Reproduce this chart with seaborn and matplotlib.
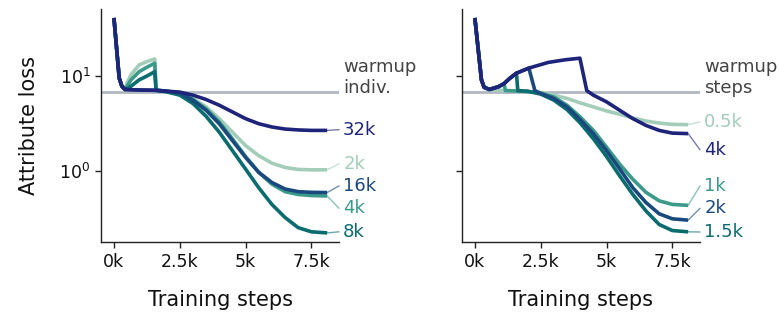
import matplotlib
matplotlib.use("Agg")
import matplotlib.pyplot as plt
import matplotlib.ticker as mticker
import pandas as pd
import seaborn as sns

sns.set_theme(style="ticks")
plt.rcParams["font.family"] = ["DejaVu Sans"]

# ---------------- data ----------------
# Left panel: warmup individuals
left_labels = ["2k", "4k", "8k", "16k", "32k"]
left_x = {
    "2k":  [0, 0.2, 0.3, 0.42, 0.5, 0.65, 0.96, 1.26, 1.55, 1.6, 2.0,
            2.5, 3.0, 3.5, 4.0, 4.5, 5.0, 5.5, 6.0, 6.5, 7.0, 7.5, 8.1],
    "4k":  [0, 0.2, 0.3, 0.42, 0.5, 0.65, 0.96, 1.26, 1.55, 1.6, 2.0,
            2.5, 3.0, 3.5, 4.0, 4.5, 5.0, 5.5, 6.0, 6.5, 7.0, 7.5, 8.1],
    "8k":  [0, 0.2, 0.3, 0.42, 0.5, 0.65, 0.96, 1.26, 1.55, 1.6, 2.0,
            2.5, 3.0, 3.5, 4.0, 4.5, 5.0, 5.5, 6.0, 6.5, 7.0, 7.5, 8.1],
    "16k": [0, 0.2, 0.3, 0.42, 1.0, 1.6, 2.0,
            2.5, 3.0, 3.5, 4.0, 4.5, 5.0, 5.5, 6.0, 6.5, 7.0, 7.5, 8.1],
    "32k": [0, 0.2, 0.3, 0.42, 1.0, 1.6, 2.0,
            2.5, 3.0, 3.5, 4.0, 4.5, 5.0, 5.5, 6.0, 6.5, 7.0, 7.5, 8.1],
}
left_y = {
    "2k":  [41, 9.5, 7.8, 7.2, 8.5, 10.3, 13.1, 14.2, 15.1, 7.1, 6.9,
            6.7, 5.78, 4.71, 3.54, 2.55, 1.84, 1.44, 1.2, 1.08, 1.03, 1.02, 1.02],
    "4k":  [41, 9.5, 7.8, 7.2, 7.8, 9.1, 11.1, 12.4, 13.6, 7.1, 6.9,
            6.53, 5.64, 4.49, 3.27, 2.17, 1.41, 0.96, 0.72, 0.60, 0.56, 0.546, 0.54],
    "8k":  [41, 9.5, 7.8, 7.2, 7.3, 7.8, 9.1, 10.0, 11.1, 7.05, 6.8,
            6.27, 5.12, 3.75, 2.55, 1.63, 1.04, 0.66, 0.44, 0.32, 0.25, 0.226, 0.22],
    "16k": [41, 9.5, 7.8, 7.2, 7.1, 7.05, 6.9,
            6.6, 5.55, 4.34, 3.13, 2.08, 1.38, 0.96, 0.75, 0.64, 0.60, 0.59, 0.587],
    "32k": [41, 9.5, 7.8, 7.2, 7.1, 7.05, 6.9,
            6.75, 6.27, 5.64, 4.91, 4.17, 3.54, 3.13, 2.89, 2.75, 2.69, 2.66, 2.66],
}
left_label_y = {"32k": 2.71, "2k": 1.18, "16k": 0.69, "4k": 0.40, "8k": 0.226}

# Right panel: warmup steps
right_labels = ["0.5k", "1k", "1.5k", "2k", "4k"]
right_x = {
    "0.5k": [0, 0.25, 0.35, 0.55, 1.0, 1.5, 2.0,
             2.5, 3.0, 3.5, 4.0, 4.5, 5.0, 5.5, 6.0, 6.5, 7.0, 7.5, 8.1],
    "1k":   [0, 0.25, 0.35, 0.55, 0.9, 1.11, 1.16, 1.5, 2.0,
             2.5, 3.0, 3.5, 4.0, 4.5, 5.0, 5.5, 6.0, 6.5, 7.0, 7.5, 8.1],
    "1.5k": [0, 0.25, 0.35, 0.55, 0.9, 1.11, 1.3, 1.58, 1.63, 2.0,
             2.5, 3.0, 3.5, 4.0, 4.5, 5.0, 5.5, 6.0, 6.5, 7.0, 7.5, 8.1],
    "2k":   [0, 0.25, 0.35, 0.55, 0.9, 1.11, 1.3, 1.58, 2.05, 2.28,
             2.5, 3.0, 3.5, 4.0, 4.5, 5.0, 5.5, 6.0, 6.5, 7.0, 7.5, 8.1],
    "4k":   [0, 0.25, 0.35, 0.55, 0.9, 1.11, 1.3, 1.58, 2.05, 2.79, 3.42, 3.99,
             4.25, 4.5, 5.0, 5.5, 6.0, 6.5, 7.0, 7.5, 8.1],
}
right_y = {
    "0.5k": [41, 9.1, 7.6, 7.2, 7.05, 6.95, 6.85,
             6.7, 6.27, 5.78, 5.2, 4.71, 4.27, 3.94, 3.6, 3.34, 3.18, 3.08, 3.06],
    "1k":   [41, 9.1, 7.6, 7.2, 7.7, 8.3, 7.0, 6.95, 6.85,
             6.6, 6.0, 4.9, 3.69, 2.66, 1.77, 1.17, 0.81, 0.59, 0.48, 0.44, 0.43],
    "1.5k": [41, 9.1, 7.6, 7.2, 7.7, 8.3, 9.3, 10.7, 7.0, 6.9,
             6.43, 5.55, 4.41, 3.19, 2.17, 1.41, 0.88, 0.56, 0.375, 0.27, 0.233, 0.226],
    "2k":   [41, 9.1, 7.6, 7.2, 7.7, 8.3, 9.3, 10.7, 12.1, 7.0,
             6.53, 5.78, 4.71, 3.46, 2.45, 1.63, 1.04, 0.66, 0.46, 0.35, 0.31, 0.30],
    "4k":   [41, 9.1, 7.6, 7.2, 7.7, 8.3, 9.3, 10.7, 12.1, 13.9, 14.8, 15.4,
             7.0, 6.27, 5.33, 4.34, 3.54, 3.0, 2.66, 2.49, 2.46],
}
right_label_y = {"0.5k": 3.27, "4k": 1.66, "1k": 0.69, "2k": 0.40, "1.5k": 0.225}

warmup_level = 6.8
palette = ["#a3cdb9", "#3b9a8a", "#0a6c6f", "#1a4a7d", "#1e2479"]
gray = "#b1b8c3"
text_gray = "#444444"

# ---------------- figure ----------------
fig = plt.figure(figsize=(7.79, 3.14), dpi=100)
ax1 = fig.add_axes([0.1297, 0.229, 0.3055, 0.741])
ax2 = fig.add_axes([0.593, 0.229, 0.3056, 0.741], sharey=ax1)

X_MIN, X_MAX = -0.49, 8.55


def draw_panel(ax, labels, xs, ys, label_y, title_text):
    rows = []
    for lab in labels:
        for i, (xv, yv) in enumerate(zip(xs[lab], ys[lab])):
            rows.append({"step": xv, "loss": yv, "run": lab, "order": i})
    df = pd.DataFrame(rows)
    ax.axhline(warmup_level, color=gray, lw=2.0, zorder=1)
    sns.lineplot(data=df, x="step", y="loss", hue="run", hue_order=labels,
                 palette=palette, estimator=None, sort=False, lw=2.6,
                 legend=False, ax=ax, zorder=3, solid_capstyle="butt",
                 solid_joinstyle="round")
    ax.set_yscale("log")
    ax.set_xlim(X_MIN, X_MAX)
    ax.set_ylim(0.176, 50.4)
    ax.set_xticks([0, 2.5, 5, 7.5])
    ax.set_xticklabels(["0k", "2.5k", "5k", "7.5k"])
    ax.yaxis.set_major_locator(mticker.FixedLocator([1, 10]))
    ax.yaxis.set_minor_locator(mticker.NullLocator())
    ax.tick_params(axis="both", labelsize=12.5, length=4, width=1.0,
                   color="#222222", labelcolor="#111111")
    for s in ["left", "bottom"]:
        ax.spines[s].set_linewidth(1.0)
        ax.spines[s].set_color("#222222")
    sns.despine(ax=ax)
    ax.set_xlabel("Training steps", fontsize=15, labelpad=14, color="#111111")
    # end labels with leader lines
    for lab, col in zip(labels, palette):
        x_end = xs[lab][-1]
        y_end = ys[lab][-1]
        ly = label_y[lab]
        ax.plot([x_end, X_MAX], [y_end, ly], color=col, lw=1.0, alpha=0.6,
                clip_on=False, zorder=2)
        ax.annotate(lab, xy=(X_MAX, ly), xytext=(3, 0), textcoords="offset points",
                    ha="left", va="center", fontsize=13, color=col,
                    annotation_clip=False)
    ax.annotate(title_text, xy=(X_MAX, 9.6), xytext=(3, 0), textcoords="offset points",
                ha="left", va="center", fontsize=13, color=text_gray,
                linespacing=1.2, annotation_clip=False)


draw_panel(ax1, left_labels, left_x, left_y, left_label_y, "warmup\nindiv.")
draw_panel(ax2, right_labels, right_x, right_y, right_label_y, "warmup\nsteps")

ax1.set_ylabel("Attribute loss", fontsize=15, labelpad=15, color="#111111")
ax2.set_ylabel("")
ax2.tick_params(axis="y", labelleft=False)

fig.savefig("out.png", dpi=100)
